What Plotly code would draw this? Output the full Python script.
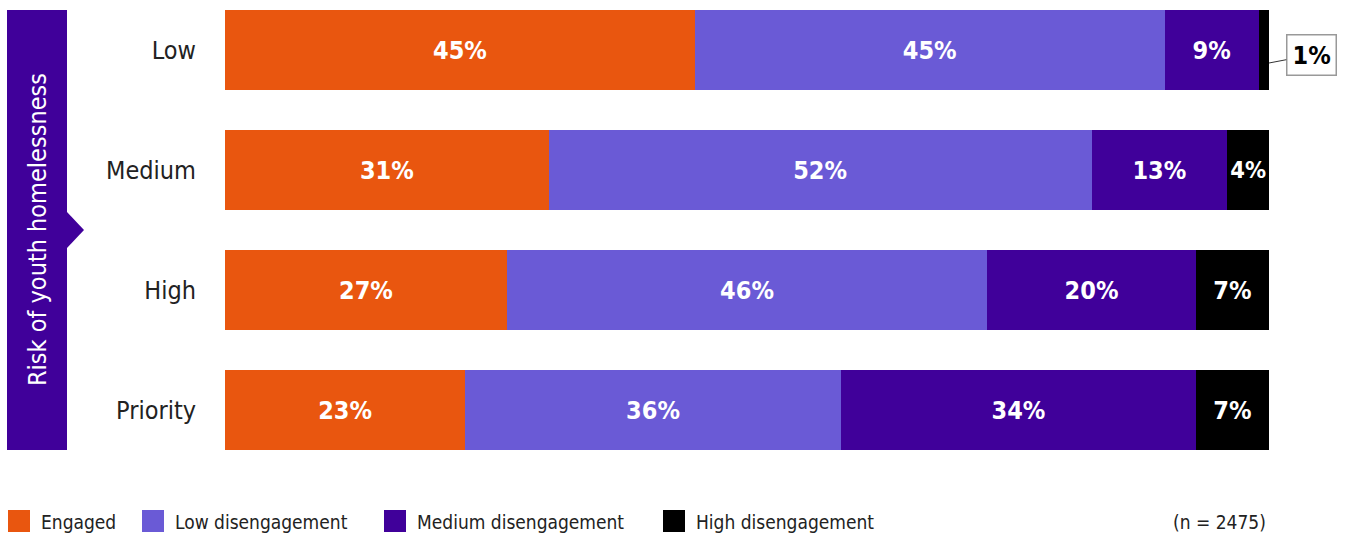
import plotly.graph_objects as go

categories = ["Low", "Medium", "High", "Priority"]
series_names = ["Engaged", "Low disengagement", "Medium disengagement", "High disengagement"]
engaged = [45, 31, 27, 23]
low_dis = [45, 52, 46, 36]
med_dis = [9, 13, 20, 34]
high_dis = [1, 4, 7, 7]
colors = ["#E9560F", "#6A5AD6", "#40009A", "#000000"]
legend_x_px = [8, 142, 384, 663]

FONT = "DejaVu Sans Condensed"
W, H = 1345, 535
L, R, T, B = 225, 76, 10, 85
PW, PH = W - L - R, H - T - B


def px_x(x):
    return (x - L) / PW


def px_y(y):
    return 1 - (y - T) / PH


fig = go.Figure()
for name, vals, col in zip(series_names, [engaged, low_dis, med_dis, high_dis], colors):
    texts = [f"<b>{v}%</b>" if v >= 3 else "" for v in vals]
    fig.add_trace(go.Bar(
        y=categories, x=vals, name=name, orientation="h",
        marker=dict(color=col, line=dict(width=0)),
        text=texts, textposition="inside", insidetextanchor="middle",
        textangle=0,
        textfont=dict(color="white", size=25, family=FONT),
        hoverinfo="skip", showlegend=False,
    ))

# small value callout
fig.add_annotation(
    x=engaged[0] + low_dis[0] + med_dis[0] + high_dis[0], y=categories[0],
    yshift=-13, text="<b>1%</b>", showarrow=True, arrowhead=0, arrowwidth=1,
    arrowcolor="#333", ax=42, ay=-8, bordercolor="#999", borderwidth=1.5,
    borderpad=5, bgcolor="white", font=dict(size=25, color="black", family=FONT),
)

# y-axis title box
x0, x1, xt = px_x(7), px_x(67), px_x(84)
fig.add_shape(type="rect", xref="paper", yref="paper", x0=x0, x1=x1, y0=0, y1=1,
              fillcolor="#40009A", line=dict(width=0), layer="below")
fig.add_shape(type="path", xref="paper", yref="paper",
              path=f"M {x1} {px_y(212)} L {xt} {px_y(230)} L {x1} {px_y(248)} Z",
              fillcolor="#40009A", line=dict(width=0))
fig.add_annotation(xref="paper", yref="paper", x=px_x(37), y=px_y(230),
                   xanchor="center", yanchor="middle",
                   text="Risk of youth homelessness", textangle=-90, showarrow=False,
                   font=dict(size=25, color="white", family=FONT))

fig.add_annotation(xref="paper", yref="paper", x=px_x(1268), y=px_y(522),
                   text="(n = 2475)", showarrow=False, xanchor="right", yanchor="middle",
                   font=dict(size=19, color="#222", family=FONT))

# legend
for name, col, lx in zip(series_names, colors, legend_x_px):
    fig.add_shape(type="rect", xref="paper", yref="paper",
                  x0=px_x(lx), x1=px_x(lx + 22), y0=px_y(532), y1=px_y(510),
                  fillcolor=col, line=dict(width=0))
    fig.add_annotation(xref="paper", yref="paper", x=px_x(lx + 31), y=px_y(522),
                       text=name, showarrow=False, xanchor="left", yanchor="middle",
                       font=dict(size=19, color="#222", family=FONT))

fig.update_layout(
    barmode="stack", bargap=1/3,
    width=W, height=H,
    margin=dict(l=L, r=R, t=T, b=B, autoexpand=False),
    plot_bgcolor="white", paper_bgcolor="white",
    font=dict(family=FONT, color="#222"),
    xaxis=dict(range=[0, 100], visible=False, fixedrange=True, automargin=False),
    yaxis=dict(categoryorder="array", categoryarray=categories, automargin=False,
               range=[3 + 1/3, -1/3], showgrid=False, zeroline=False, showline=False,
               ticks="", ticklabelstandoff=28, tickfont=dict(size=25, color="#222", family=FONT)),
    showlegend=False,
)

fig.write_html("out.html")
